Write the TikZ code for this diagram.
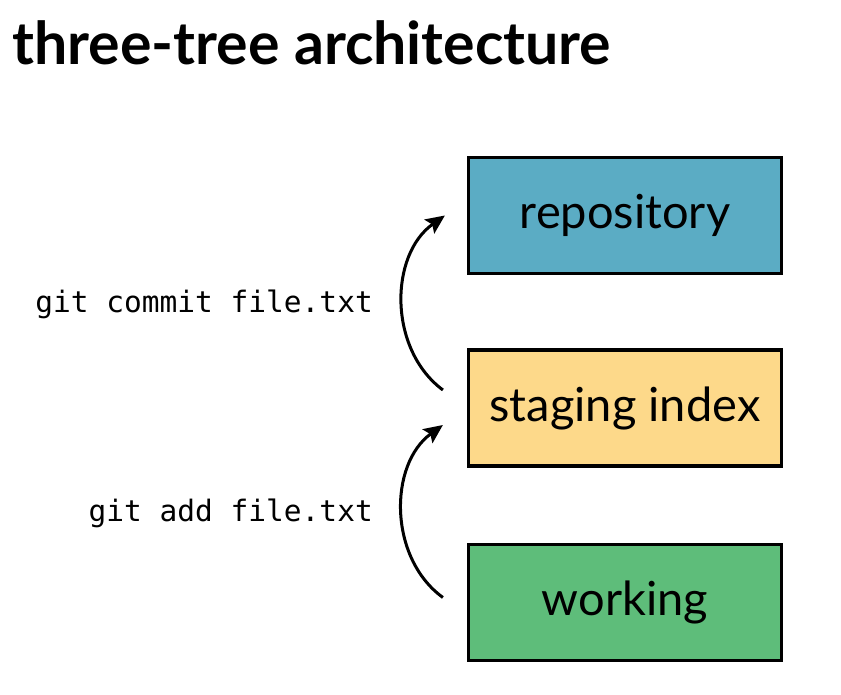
\documentclass[tikz,border=0pt]{standalone}
\usepackage{fontspec}
\setmainfont{Lato}
\newfontfamily\codefont{DejaVu Sans Mono}
\usetikzlibrary{arrows.meta}
\definecolor{repoblue}{RGB}{91,172,196}
\definecolor{stageyellow}{RGB}{253,217,138}
\definecolor{workgreen}{RGB}{94,189,122}
\tikzset{
  treebox/.style={draw=black,line width=3.2pt,minimum width=313pt,minimum height=116pt,
    inner sep=0pt,font=\fontsize{47}{47}\selectfont},
  gitcmd/.style={anchor=base east,inner sep=0pt,font=\codefont\fontsize{29.5}{29.5}\selectfont},
  flow/.style={line width=3pt,-{Stealth[length=19pt,width=17pt,inset=3.5pt]},bend left=54}
}
\begin{document}
\begin{tikzpicture}[x=1pt,y=1pt]
\useasboundingbox (0,0) rectangle (841,695);
\node[anchor=base west,inner sep=0pt,font=\bfseries\fontsize{59}{59}\selectfont] (title) at (12,630) {three-tree architecture};
\node[treebox,fill=repoblue] (repository) at (625,479.5) {repository};
\node[treebox,fill=stageyellow] (staging) at (625,287) {staging index};
\node[treebox,fill=workgreen] (working) at (625,92.5) {working};
\node[gitcmd] (commit) at (373,382) {git commit file.txt};
\node[gitcmd] (add) at (373,173) {git add file.txt};
\draw[flow] ([shift={(-24,18)}]staging.west) to ([shift={(-22,0)}]repository.west);
\draw[flow] ([shift={(-24,5)}]working.west) to ([shift={(-24,-17)}]staging.west);
\end{tikzpicture}
\end{document}
